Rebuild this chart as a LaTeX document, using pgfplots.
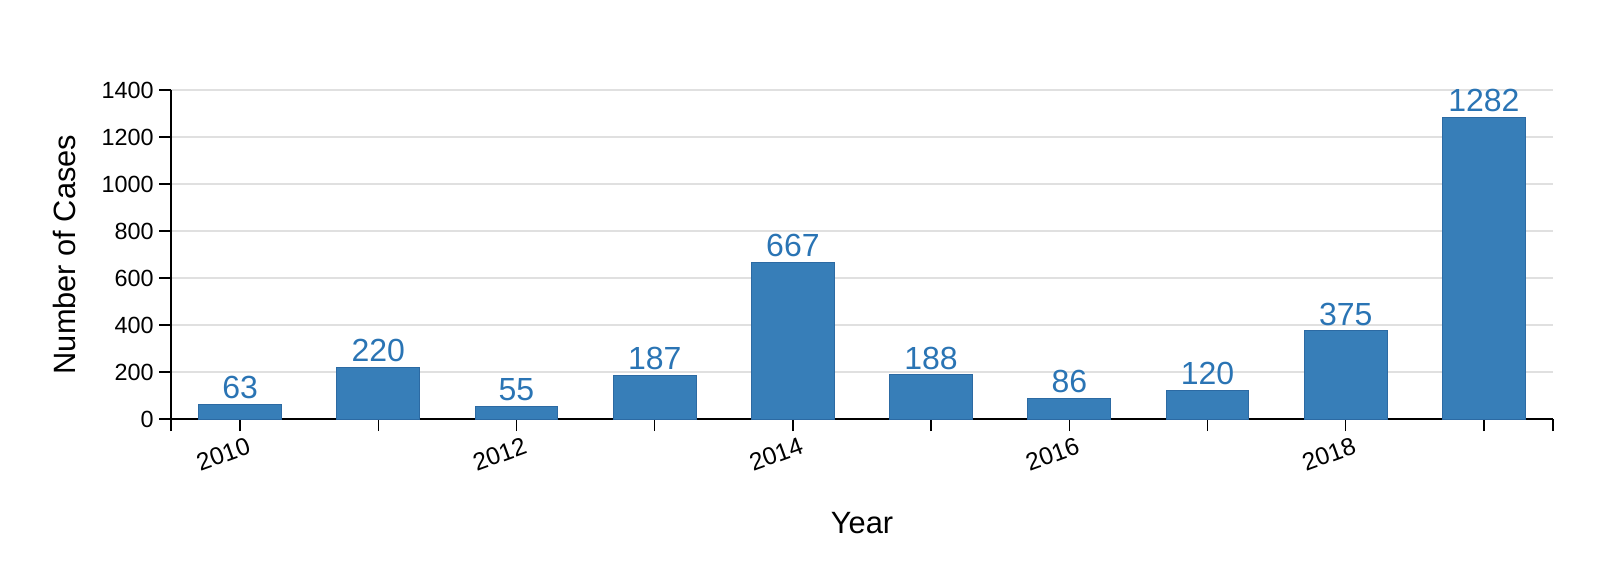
\documentclass[border=0pt]{standalone}
\usepackage{pgfplots}
\pgfplotsset{compat=1.18}
\usepackage{fontspec}
\setmainfont{Liberation Sans}
\definecolor{barfill}{HTML}{377EB8}
\definecolor{baredge}{HTML}{2C6AA3}
\definecolor{valtext}{HTML}{2A74B4}
\definecolor{gridgray}{HTML}{E0E0E0}

\pgfplotstableread{
year cases
2010 63
2011 220
2012 55
2013 187
2014 667
2015 188
2016 86
2017 120
2018 375
2019 1282
}\casestable

\begin{document}
\begin{tikzpicture}
\begin{axis}[
  at={(0,0)}, anchor=south west,
  scale only axis, width=691pt, height=164.5pt,
  xmin=2009.5, xmax=2019.5, ymin=0, ymax=1400,
  enlargelimits=false,
  axis x line*=bottom, axis y line*=left,
  axis line style={black, line width=0.75pt},
  xtick={2010,2012,...,2018},
  minor xtick={2009.5,2011,2013,2015,2017,2019,2019.5},
  ytick={0,200,...,1400},
  ymajorgrids, grid style={gridgray, line width=0.75pt},
  tick align=outside, major tick length=6pt, minor tick length=6pt,
  tick style={black, line width=0.75pt},
  /pgf/number format/assume math mode=true,
  /pgf/number format/1000 sep={},
  tick label style={font=\fontsize{11.7}{14}\selectfont},
  yticklabel style={inner sep=2.5pt},
  xticklabel style={font=\fontsize{12.3}{14}\selectfont, rotate=20, anchor=north east,
    inner sep=2pt, xshift=4pt, yshift=-1.5pt},
  xlabel={Year}, ylabel={Number of Cases},
  label style={font=\fontsize{15.4}{18}\selectfont},
  xlabel style={at={(axis description cs:0.5,-0.3465)}, anchor=base},
  ylabel style={at={(axis description cs:-0.0767,0.5)}, anchor=center},
  ybar, bar width=0.6,
  nodes near coords,
  nodes near coords style={font=\fontsize{16}{19}\selectfont, text=valtext,
    inner sep=0pt, anchor=south, yshift=2.5pt},
]
\addplot[fill=barfill, draw=baredge, line width=0.5pt] table[x=year, y=cases] {\casestable};
\end{axis}
% page = 1600x584 px at 0.5pt per px
\pgfresetboundingbox
\path[use as bounding box] (-85.5pt,-82.5pt) rectangle (714.5pt,209.5pt);
\end{tikzpicture}
\end{document}
